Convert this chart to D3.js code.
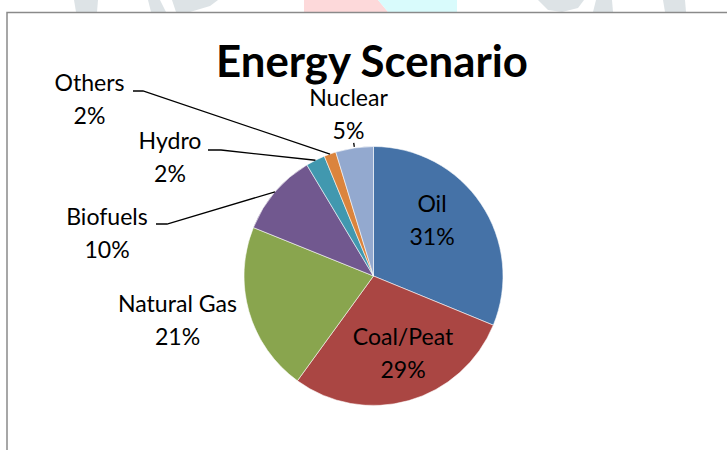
<!DOCTYPE html>
<html><head><meta charset="utf-8">
<script src="https://cdn.jsdelivr.net/npm/d3@7"></script>
<style>html,body{margin:0;padding:0;background:#fff;}svg{display:block;}</style>
</head><body>
<svg id="chart" width="727" height="450"></svg>
<script>
// ---- data ----
const categories = ["Oil", "Coal/Peat", "Natural Gas", "Biofuels", "Hydro", "Others", "Nuclear"];
const shares = [31.2, 28.8, 21.1, 10.3, 2.4, 1.5, 4.7];
const percentLabels = ["31%", "29%", "21%", "10%", "2%", "2%", "5%"];
const colors = ["#4572A7", "#AA4643", "#89A54E", "#71588F", "#4198AF", "#DB843D", "#93A9CF"];
const title = "Energy Scenario";

// ---- layout ----
const W = 727, H = 450;
const cx = 373.5, cy = 276, R = 129.5;
const fontFamily = "Lato, 'Open Sans', sans-serif";
// label anchor (centre x, first baseline), leader elbow info
const labelLayout = {
  "Oil":        {x: 432,   y: 212},
  "Coal/Peat":  {x: 403,   y: 345},
  "Natural Gas":{x: 177.5, y: 312},
  "Biofuels":   {x: 107,   y: 225, lead: {x0: 156, x1: 167, y: 224}},
  "Hydro":      {x: 170,   y: 149, lead: {x0: 208, x1: 221, y: 150}},
  "Others":     {x: 89.5,  y: 91,  lead: {x0: 133, x1: 143, y: 91}},
  "Nuclear":    {x: 348.5, y: 106, tick: 4}
};
const lineGap = 32.5;

const svg = d3.select("#chart");
svg.append("rect").attr("width", W).attr("height", H).attr("fill", "#fff");

// faint page watermark peeking above the chart frame
const wm = svg.append("g");
const wmShapes = [
  {c: "#dde3e6", p: [[74,0],[98,0],[97,12],[76,12]]},
  {c: "#dde3e6", p: [[148,0],[160,0],[166,12],[151,12]]},
  {c: "#dde3e6", p: [[172,0],[218,0],[210,6],[190,12],[176,12]]},
  {c: "#fdd9da", p: [[304,0],[378,0],[388,12],[304,12]]},
  {c: "#d9fbfc", p: [[378,0],[457,0],[457,12],[388,12]]},
  {c: "#dde3e6", p: [[538,0],[584,0],[578,8],[562,12],[548,10]]},
  {c: "#dde3e6", p: [[596,0],[612,0],[613,12],[593,12]]},
  {c: "#dde3e6", p: [[663,0],[685,0],[686,12],[665,12]]}
];
wmShapes.forEach(s => wm.append("polygon").attr("points", s.p.map(q => q.join(",")).join(" ")).attr("fill", s.c));

// chart frame
svg.append("rect").attr("x", 7).attr("y", 12.5).attr("width", 740).attr("height", 460)
  .attr("fill", "#fff").attr("stroke", "#8a8a8a").attr("stroke-width", 1.5);

// title, fitted to reference width
const titleText = svg.append("text").attr("x", 372).attr("y", 77)
  .attr("text-anchor", "middle").attr("font-family", fontFamily)
  .attr("font-weight", "bold").attr("font-size", 40).attr("fill", "#000").text(title);
const tw = titleText.node().getComputedTextLength();
titleText.attr("font-size", 40 * 312 / tw);

// pie
const pie = d3.pie().sort(null).value(d => d.v).startAngle(0).endAngle(2 * Math.PI);
const data = categories.map((c, i) => ({name: c, v: shares[i], pct: percentLabels[i], color: colors[i]}));
const arcs = pie(data);
const arc = d3.arc().innerRadius(0).outerRadius(R);

const g = svg.append("g").attr("transform", `translate(${cx},${cy})`);
g.selectAll("path").data(arcs).join("path")
  .attr("d", arc).attr("fill", d => d.data.color)
  .attr("stroke", "#ffffff").attr("stroke-opacity", 0.7).attr("stroke-width", 0.8);

// label font size fitted so "Natural Gas" matches reference width
const probe = svg.append("text").attr("font-family", fontFamily).attr("font-size", 100).text("Natural Gas");
const labelSize = 100 * 119 / probe.node().getComputedTextLength();
probe.remove();

const polar = (a, r) => [cx + r * Math.sin(a), cy - r * Math.cos(a)];

arcs.forEach(d => {
  const L = labelLayout[d.data.name];
  const mid = (d.startAngle + d.endAngle) / 2;
  if (L.lead) {
    const p = polar(mid, R);
    svg.append("polyline")
      .attr("points", [[L.lead.x0, L.lead.y], [L.lead.x1, L.lead.y], p].map(q => q.join(",")).join(" "))
      .attr("fill", "none").attr("stroke", "#000").attr("stroke-width", 1.3);
  }
  if (L.tick) {
    const p0 = polar(mid, R + 1), p1 = polar(mid, R + 1 + L.tick);
    svg.append("line").attr("x1", p0[0]).attr("y1", p0[1]).attr("x2", p1[0]).attr("y2", p1[1])
      .attr("stroke", "#000").attr("stroke-width", 1.3);
  }
  const t = svg.append("text").attr("text-anchor", "middle")
    .attr("font-family", fontFamily).attr("font-size", labelSize).attr("fill", "#000");
  t.append("tspan").attr("x", L.x).attr("y", L.y).text(d.data.name);
  t.append("tspan").attr("x", L.x).attr("y", L.y + lineGap).text(d.data.pct);
});
</script>
</body></html>
